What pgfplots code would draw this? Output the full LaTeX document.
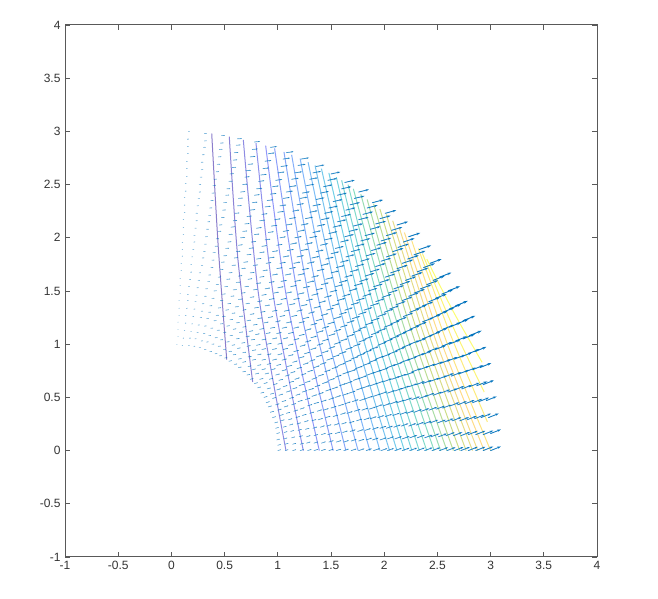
\documentclass[border=0pt]{standalone}
\usepackage{pgfplots}
\usepackage{fontspec}
\setmainfont{Liberation Sans}
\usetikzlibrary{arrows.meta}
\pgfplotsset{compat=1.18}
\definecolor{ax}{rgb}{.35,.35,.35}
\pgfplotstableread{
x y u v
1.00 0.00 .029 .009
1.07 0.00 .031 .010
1.14 0.00 .033 .010
1.21 0.00 .036 .011
1.28 0.00 .038 .012
1.34 0.00 .040 .013
1.41 0.00 .042 .014
1.48 0.00 .045 .015
1.55 0.00 .047 .015
1.62 0.00 .049 .016
1.69 0.00 .052 .017
1.76 0.00 .054 .018
1.83 0.00 .056 .019
1.90 0.00 .059 .020
1.97 0.00 .061 .021
2.03 0.00 .063 .022
2.10 0.00 .066 .023
2.17 0.00 .068 .025
2.24 0.00 .071 .026
2.31 0.00 .073 .027
2.38 0.00 .075 .028
2.45 0.00 .078 .029
2.52 0.00 .080 .030
2.59 0.00 .082 .031
2.66 0.00 .085 .033
2.72 0.00 .087 .034
2.79 0.00 .090 .035
2.86 0.00 .092 .036
2.93 0.00 .095 .038
3.00 0.00 .097 .039
1.00 0.05 .029 .009
1.07 0.06 .031 .010
1.14 0.06 .033 .010
1.21 0.06 .036 .011
1.27 0.07 .038 .012
1.34 0.07 .040 .013
1.41 0.07 .042 .014
1.48 0.08 .045 .015
1.55 0.08 .047 .015
1.62 0.08 .049 .016
1.69 0.09 .052 .017
1.76 0.09 .054 .018
1.83 0.10 .056 .019
1.89 0.10 .059 .020
1.96 0.10 .061 .021
2.03 0.11 .063 .022
2.10 0.11 .066 .023
2.17 0.11 .068 .025
2.24 0.12 .071 .026
2.31 0.12 .073 .027
2.38 0.12 .075 .028
2.44 0.13 .078 .029
2.51 0.13 .080 .030
2.58 0.14 .082 .031
2.65 0.14 .085 .033
2.72 0.14 .087 .034
2.79 0.15 .090 .035
2.86 0.15 .092 .036
2.93 0.15 .095 .038
3.00 0.16 .097 .039
0.99 0.10 .029 .009
1.06 0.11 .031 .010
1.13 0.12 .033 .010
1.20 0.13 .036 .011
1.27 0.13 .038 .012
1.34 0.14 .040 .013
1.41 0.15 .042 .014
1.47 0.15 .045 .015
1.54 0.16 .047 .015
1.61 0.17 .049 .016
1.68 0.18 .052 .017
1.75 0.18 .054 .018
1.82 0.19 .056 .019
1.89 0.20 .059 .020
1.96 0.21 .061 .021
2.02 0.21 .063 .022
2.09 0.22 .066 .023
2.16 0.23 .068 .025
2.23 0.23 .071 .026
2.30 0.24 .073 .027
2.37 0.25 .075 .028
2.43 0.26 .078 .029
2.50 0.26 .080 .030
2.57 0.27 .082 .031
2.64 0.28 .085 .033
2.71 0.28 .087 .034
2.78 0.29 .090 .035
2.85 0.30 .092 .036
2.91 0.31 .095 .038
2.98 0.31 .097 .039
0.99 0.16 .029 .009
1.06 0.17 .031 .010
1.12 0.18 .033 .010
1.19 0.19 .036 .011
1.26 0.20 .038 .012
1.33 0.21 .040 .013
1.40 0.22 .042 .014
1.46 0.23 .045 .015
1.53 0.24 .047 .015
1.60 0.25 .049 .016
1.67 0.26 .052 .017
1.74 0.28 .054 .018
1.81 0.29 .056 .019
1.87 0.30 .059 .020
1.94 0.31 .061 .021
2.01 0.32 .063 .022
2.08 0.33 .066 .023
2.15 0.34 .068 .025
2.21 0.35 .071 .026
2.28 0.36 .073 .027
2.35 0.37 .075 .028
2.42 0.38 .078 .029
2.49 0.39 .080 .030
2.55 0.40 .082 .031
2.62 0.42 .085 .033
2.69 0.43 .087 .034
2.76 0.44 .090 .035
2.83 0.45 .092 .036
2.89 0.46 .095 .038
2.96 0.47 .097 .039
0.98 0.21 .030 .009
1.05 0.22 .033 .010
1.11 0.24 .035 .011
1.18 0.25 .038 .012
1.25 0.27 .040 .013
1.32 0.28 .042 .013
1.38 0.29 .045 .014
1.45 0.31 .047 .015
1.52 0.32 .049 .016
1.59 0.34 .052 .017
1.65 0.35 .054 .018
1.72 0.37 .057 .019
1.79 0.38 .059 .020
1.86 0.39 .062 .021
1.92 0.41 .064 .022
1.99 0.42 .067 .024
2.06 0.44 .069 .025
2.12 0.45 .072 .026
2.19 0.47 .074 .027
2.26 0.48 .077 .028
2.33 0.49 .079 .029
2.39 0.51 .082 .031
2.46 0.52 .084 .032
2.53 0.54 .087 .033
2.60 0.55 .089 .034
2.66 0.57 .092 .036
2.73 0.58 .094 .037
2.80 0.60 .097 .038
2.87 0.61 .100 .040
2.93 0.62 .102 .041
0.97 0.26 .032 .010
1.03 0.28 .034 .010
1.10 0.29 .037 .011
1.17 0.31 .039 .012
1.23 0.33 .042 .013
1.30 0.35 .044 .014
1.37 0.37 .047 .015
1.43 0.38 .049 .016
1.50 0.40 .052 .017
1.57 0.42 .054 .018
1.63 0.44 .057 .019
1.70 0.46 .059 .020
1.77 0.47 .062 .021
1.83 0.49 .065 .022
1.90 0.51 .067 .024
1.96 0.53 .070 .025
2.03 0.54 .073 .026
2.10 0.56 .075 .027
2.16 0.58 .078 .028
2.23 0.60 .080 .029
2.30 0.62 .083 .031
2.36 0.63 .086 .032
2.43 0.65 .088 .033
2.50 0.67 .091 .035
2.56 0.69 .094 .036
2.63 0.70 .096 .037
2.70 0.72 .099 .039
2.76 0.74 .102 .040
2.83 0.76 .104 .042
2.90 0.78 .107 .043
0.95 0.31 .033 .010
1.02 0.33 .036 .011
1.08 0.35 .038 .012
1.15 0.37 .041 .013
1.21 0.39 .043 .014
1.28 0.42 .046 .015
1.34 0.44 .049 .016
1.41 0.46 .051 .017
1.48 0.48 .054 .018
1.54 0.50 .056 .019
1.61 0.52 .059 .020
1.67 0.54 .062 .021
1.74 0.57 .064 .022
1.80 0.59 .067 .023
1.87 0.61 .070 .025
1.93 0.63 .072 .026
2.00 0.65 .075 .027
2.07 0.67 .078 .028
2.13 0.69 .081 .030
2.20 0.71 .083 .031
2.26 0.74 .086 .032
2.33 0.76 .089 .034
2.39 0.78 .092 .035
2.46 0.80 .094 .036
2.53 0.82 .097 .038
2.59 0.84 .100 .039
2.66 0.86 .103 .041
2.72 0.88 .106 .042
2.79 0.91 .108 .044
2.85 0.93 .111 .045
0.93 0.36 .035 .011
1.00 0.38 .037 .011
1.06 0.41 .040 .012
1.13 0.43 .043 .013
1.19 0.46 .045 .014
1.26 0.48 .048 .015
1.32 0.51 .051 .016
1.38 0.53 .053 .018
1.45 0.56 .056 .019
1.51 0.58 .059 .020
1.58 0.61 .062 .021
1.64 0.63 .064 .022
1.71 0.66 .067 .023
1.77 0.68 .070 .025
1.84 0.71 .073 .026
1.90 0.73 .076 .027
1.96 0.75 .079 .028
2.03 0.78 .081 .030
2.09 0.80 .084 .031
2.16 0.83 .087 .032
2.22 0.85 .090 .034
2.29 0.88 .093 .035
2.35 0.90 .096 .036
2.41 0.93 .099 .038
2.48 0.95 .102 .039
2.54 0.98 .104 .041
2.61 1.00 .107 .042
2.67 1.03 .110 .044
2.74 1.05 .113 .045
2.80 1.08 .116 .047
0.91 0.41 .035 .011
0.98 0.43 .037 .011
1.04 0.46 .040 .012
1.11 0.49 .043 .013
1.17 0.52 .045 .014
1.23 0.55 .048 .015
1.29 0.57 .051 .016
1.35 0.60 .053 .018
1.42 0.63 .056 .019
1.48 0.66 .059 .020
1.54 0.69 .062 .021
1.61 0.72 .064 .022
1.67 0.74 .067 .023
1.73 0.77 .070 .025
1.80 0.80 .073 .026
1.86 0.83 .076 .027
1.92 0.86 .079 .028
1.98 0.88 .081 .030
2.05 0.91 .084 .031
2.11 0.94 .087 .032
2.17 0.97 .090 .034
2.24 1.00 .093 .035
2.30 1.02 .096 .036
2.36 1.05 .099 .038
2.43 1.08 .102 .039
2.49 1.11 .104 .041
2.55 1.14 .107 .042
2.61 1.16 .110 .044
2.68 1.19 .113 .045
2.74 1.22 .116 .047
0.89 0.45 .035 .011
0.95 0.49 .037 .011
1.01 0.52 .040 .012
1.08 0.55 .043 .013
1.14 0.58 .045 .014
1.20 0.61 .048 .015
1.26 0.64 .051 .016
1.32 0.67 .053 .018
1.38 0.70 .056 .019
1.44 0.74 .059 .020
1.51 0.77 .062 .021
1.57 0.80 .064 .022
1.63 0.83 .067 .023
1.69 0.86 .070 .025
1.75 0.89 .073 .026
1.81 0.92 .076 .027
1.87 0.95 .079 .028
1.94 0.99 .081 .030
2.00 1.02 .084 .031
2.06 1.05 .087 .032
2.12 1.08 .090 .034
2.18 1.11 .093 .035
2.24 1.14 .096 .036
2.30 1.17 .099 .038
2.36 1.21 .102 .039
2.43 1.24 .104 .041
2.49 1.27 .107 .042
2.55 1.30 .110 .044
2.61 1.33 .113 .045
2.67 1.36 .116 .047
0.87 0.50 .034 .010
0.93 0.53 .036 .011
0.99 0.57 .039 .012
1.05 0.60 .042 .013
1.11 0.64 .044 .014
1.16 0.67 .047 .015
1.22 0.71 .049 .016
1.28 0.74 .052 .017
1.34 0.78 .055 .018
1.40 0.81 .058 .019
1.46 0.85 .060 .020
1.52 0.88 .063 .021
1.58 0.91 .066 .022
1.64 0.95 .068 .023
1.71 0.98 .071 .025
1.76 1.02 .074 .026
1.82 1.05 .077 .027
1.88 1.09 .079 .028
1.94 1.12 .082 .030
2.00 1.16 .085 .031
2.06 1.19 .088 .032
2.12 1.22 .091 .034
2.18 1.26 .093 .035
2.24 1.30 .096 .036
2.30 1.33 .099 .038
2.36 1.36 .102 .039
2.42 1.40 .105 .041
2.48 1.43 .107 .042
2.54 1.47 .110 .044
2.60 1.50 .113 .045
0.84 0.54 .033 .010
0.90 0.58 .036 .010
0.96 0.62 .039 .011
1.01 0.66 .041 .012
1.07 0.70 .044 .013
1.12 0.73 .046 .014
1.18 0.77 .049 .015
1.24 0.81 .052 .016
1.30 0.84 .054 .017
1.36 0.88 .057 .018
1.42 0.92 .060 .019
1.48 0.96 .062 .020
1.53 1.00 .065 .021
1.59 1.03 .068 .022
1.65 1.07 .070 .024
1.71 1.11 .073 .025
1.76 1.14 .076 .026
1.82 1.18 .079 .027
1.88 1.22 .081 .028
1.94 1.26 .084 .029
2.00 1.30 .087 .031
2.05 1.33 .090 .032
2.11 1.37 .092 .033
2.17 1.41 .095 .035
2.23 1.45 .098 .036
2.28 1.48 .101 .037
2.34 1.52 .104 .039
2.40 1.56 .107 .040
2.46 1.60 .109 .042
2.52 1.63 .112 .043
0.81 0.59 .033 .009
0.87 0.63 .035 .010
0.92 0.67 .038 .011
0.98 0.71 .040 .011
1.04 0.75 .043 .012
1.09 0.79 .046 .013
1.14 0.83 .048 .014
1.20 0.87 .051 .015
1.25 0.91 .053 .016
1.31 0.95 .056 .017
1.37 0.99 .059 .018
1.42 1.03 .061 .019
1.48 1.08 .064 .020
1.53 1.12 .067 .021
1.59 1.16 .069 .022
1.65 1.20 .072 .023
1.70 1.24 .075 .024
1.76 1.28 .077 .025
1.81 1.32 .080 .026
1.87 1.36 .083 .027
1.92 1.40 .085 .029
1.98 1.44 .088 .030
2.04 1.48 .091 .031
2.09 1.52 .094 .032
2.15 1.56 .096 .033
2.20 1.60 .099 .035
2.26 1.64 .102 .036
2.31 1.68 .105 .037
2.37 1.72 .107 .039
2.43 1.76 .110 .040
0.78 0.63 .033 .009
0.83 0.67 .036 .009
0.88 0.72 .038 .010
0.94 0.76 .041 .011
0.99 0.80 .043 .012
1.04 0.85 .046 .012
1.10 0.89 .049 .013
1.15 0.93 .051 .014
1.21 0.98 .054 .015
1.26 1.02 .056 .016
1.31 1.06 .059 .017
1.37 1.11 .062 .018
1.42 1.15 .064 .019
1.47 1.19 .067 .020
1.53 1.24 .070 .021
1.58 1.28 .072 .022
1.63 1.32 .075 .023
1.69 1.37 .078 .024
1.74 1.41 .081 .025
1.80 1.45 .083 .026
1.85 1.50 .086 .027
1.90 1.54 .089 .028
1.96 1.58 .092 .029
2.01 1.63 .094 .031
2.06 1.67 .097 .032
2.12 1.71 .100 .033
2.17 1.76 .103 .034
2.22 1.80 .106 .036
2.28 1.84 .108 .037
2.33 1.89 .111 .038
0.74 0.67 .033 .008
0.79 0.72 .035 .009
0.85 0.76 .038 .010
0.90 0.81 .040 .010
0.95 0.85 .043 .011
1.00 0.90 .045 .012
1.05 0.95 .048 .013
1.10 0.99 .050 .013
1.15 1.04 .053 .014
1.20 1.08 .055 .015
1.26 1.13 .058 .016
1.31 1.18 .061 .017
1.36 1.22 .063 .018
1.41 1.27 .066 .019
1.46 1.32 .069 .020
1.51 1.36 .071 .021
1.56 1.41 .074 .022
1.61 1.45 .076 .023
1.67 1.50 .079 .024
1.72 1.55 .082 .025
1.77 1.59 .085 .026
1.82 1.64 .087 .027
1.87 1.68 .090 .028
1.92 1.73 .093 .029
1.97 1.78 .095 .030
2.02 1.82 .098 .031
2.08 1.87 .101 .032
2.13 1.91 .104 .034
2.18 1.96 .106 .035
2.23 2.01 .109 .036
0.71 0.71 .031 .007
0.76 0.76 .034 .008
0.81 0.80 .036 .008
0.85 0.85 .039 .009
0.90 0.90 .041 .010
0.95 0.95 .043 .010
1.00 1.00 .046 .011
1.05 1.05 .048 .012
1.10 1.10 .051 .013
1.15 1.15 .053 .013
1.20 1.20 .056 .014
1.24 1.24 .058 .015
1.29 1.29 .061 .016
1.34 1.34 .064 .017
1.39 1.39 .066 .018
1.44 1.44 .069 .018
1.49 1.49 .071 .019
1.54 1.54 .074 .020
1.58 1.58 .076 .021
1.63 1.63 .079 .022
1.68 1.68 .081 .023
1.73 1.73 .084 .024
1.78 1.78 .087 .025
1.83 1.83 .089 .026
1.88 1.88 .092 .027
1.93 1.93 .095 .028
1.97 1.97 .097 .029
2.02 2.02 .100 .030
2.07 2.07 .102 .031
2.12 2.12 .105 .032
0.67 0.74 .031 .006
0.72 0.79 .033 .007
0.76 0.85 .036 .008
0.81 0.90 .038 .008
0.85 0.95 .040 .009
0.90 1.00 .043 .010
0.95 1.05 .045 .010
0.99 1.10 .047 .011
1.04 1.15 .050 .012
1.08 1.20 .052 .012
1.13 1.26 .055 .013
1.18 1.31 .057 .014
1.22 1.36 .060 .014
1.27 1.41 .062 .015
1.32 1.46 .065 .016
1.36 1.51 .067 .017
1.41 1.56 .070 .017
1.45 1.61 .072 .018
1.50 1.67 .075 .019
1.55 1.72 .077 .020
1.59 1.77 .080 .021
1.64 1.82 .083 .022
1.69 1.87 .085 .023
1.73 1.92 .088 .023
1.78 1.97 .090 .024
1.82 2.02 .093 .025
1.87 2.08 .095 .026
1.92 2.13 .098 .027
1.96 2.18 .101 .028
2.01 2.23 .103 .029
0.63 0.78 .030 .006
0.67 0.83 .033 .007
0.72 0.88 .035 .007
0.76 0.94 .037 .008
0.80 0.99 .039 .008
0.85 1.04 .042 .009
0.89 1.10 .044 .009
0.93 1.15 .047 .010
0.98 1.21 .049 .011
1.02 1.26 .051 .011
1.06 1.31 .054 .012
1.11 1.37 .056 .013
1.15 1.42 .059 .013
1.19 1.47 .061 .014
1.24 1.53 .064 .015
1.28 1.58 .066 .015
1.32 1.63 .068 .016
1.37 1.69 .071 .017
1.41 1.74 .073 .018
1.45 1.80 .076 .019
1.50 1.85 .078 .019
1.54 1.90 .081 .020
1.59 1.96 .083 .021
1.63 2.01 .086 .022
1.67 2.06 .088 .023
1.71 2.11 .091 .023
1.76 2.17 .093 .024
1.80 2.22 .096 .025
1.84 2.28 .099 .026
1.89 2.33 .101 .027
0.59 0.81 .029 .005
0.63 0.86 .031 .006
0.67 0.92 .033 .006
0.71 0.98 .036 .007
0.75 1.04 .038 .007
0.79 1.09 .040 .008
0.83 1.14 .042 .008
0.87 1.20 .045 .009
0.91 1.25 .047 .010
0.95 1.31 .049 .010
0.99 1.37 .052 .011
1.03 1.42 .054 .011
1.08 1.48 .056 .012
1.12 1.54 .059 .013
1.16 1.59 .061 .013
1.19 1.65 .063 .014
1.23 1.70 .066 .014
1.28 1.76 .068 .015
1.32 1.81 .071 .016
1.36 1.87 .073 .016
1.40 1.93 .075 .017
1.44 1.98 .078 .018
1.48 2.04 .080 .019
1.52 2.10 .082 .019
1.56 2.15 .085 .020
1.60 2.20 .087 .021
1.64 2.26 .090 .022
1.68 2.31 .092 .022
1.72 2.37 .095 .023
1.76 2.43 .097 .024
0.54 0.84 .028 .005
0.58 0.90 .030 .005
0.62 0.96 .032 .006
0.66 1.01 .035 .006
0.70 1.07 .037 .007
0.73 1.12 .039 .007
0.77 1.18 .041 .008
0.81 1.24 .043 .008
0.84 1.30 .046 .009
0.88 1.36 .048 .009
0.92 1.42 .050 .010
0.96 1.48 .052 .010
1.00 1.53 .055 .011
1.03 1.59 .057 .011
1.07 1.65 .059 .012
1.11 1.71 .061 .013
1.15 1.76 .064 .013
1.18 1.82 .066 .014
1.22 1.88 .068 .014
1.26 1.94 .071 .015
1.30 2.00 .073 .016
1.33 2.05 .075 .016
1.37 2.11 .078 .017
1.41 2.17 .080 .018
1.44 2.23 .082 .018
1.48 2.28 .085 .019
1.52 2.34 .087 .020
1.56 2.40 .089 .021
1.60 2.46 .092 .021
1.63 2.52 .094 .022
0.50 0.87 .026 .004
0.54 0.93 .028 .005
0.57 0.99 .030 .005
0.61 1.05 .032 .005
0.64 1.11 .034 .006
0.67 1.16 .036 .006
0.71 1.22 .039 .007
0.74 1.28 .041 .007
0.78 1.34 .043 .008
0.81 1.40 .045 .008
0.85 1.46 .047 .008
0.88 1.52 .049 .009
0.92 1.58 .051 .009
0.95 1.65 .053 .010
0.99 1.71 .055 .010
1.02 1.76 .057 .011
1.05 1.82 .060 .011
1.09 1.88 .062 .012
1.12 1.94 .064 .013
1.16 2.00 .066 .013
1.19 2.06 .068 .014
1.22 2.12 .070 .014
1.26 2.18 .073 .015
1.30 2.24 .075 .015
1.33 2.30 .077 .016
1.36 2.36 .079 .017
1.40 2.42 .081 .017
1.43 2.48 .084 .018
1.47 2.54 .086 .018
1.50 2.60 .088 .019
0.45 0.89 .024 .003
0.49 0.95 .025 .004
0.52 1.02 .027 .004
0.55 1.08 .029 .004
0.58 1.14 .031 .005
0.61 1.20 .033 .005
0.64 1.26 .035 .005
0.67 1.32 .036 .006
0.70 1.38 .038 .006
0.74 1.44 .040 .006
0.77 1.51 .042 .007
0.80 1.57 .044 .007
0.83 1.63 .046 .007
0.86 1.69 .048 .008
0.89 1.76 .050 .008
0.92 1.81 .052 .009
0.95 1.87 .054 .009
0.99 1.93 .055 .009
1.02 2.00 .057 .010
1.05 2.06 .059 .010
1.08 2.12 .061 .011
1.11 2.18 .063 .011
1.14 2.25 .065 .012
1.18 2.31 .067 .012
1.21 2.37 .069 .013
1.23 2.42 .071 .013
1.27 2.49 .073 .014
1.30 2.55 .075 .014
1.33 2.61 .077 .015
1.36 2.67 .079 .015
0.41 0.91 .022 .003
0.44 0.98 .024 .003
0.46 1.04 .026 .003
0.49 1.11 .027 .003
0.52 1.17 .029 .004
0.55 1.23 .031 .004
0.57 1.29 .032 .004
0.60 1.35 .034 .004
0.63 1.42 .036 .005
0.66 1.48 .038 .005
0.69 1.54 .039 .005
0.72 1.61 .041 .006
0.74 1.67 .043 .006
0.77 1.74 .045 .006
0.80 1.80 .047 .007
0.83 1.86 .048 .007
0.85 1.92 .050 .007
0.88 1.98 .052 .008
0.91 2.05 .054 .008
0.94 2.11 .056 .008
0.97 2.17 .057 .009
1.00 2.24 .059 .009
1.02 2.30 .061 .009
1.05 2.37 .063 .010
1.08 2.43 .065 .010
1.11 2.48 .067 .010
1.13 2.55 .068 .011
1.16 2.61 .070 .011
1.19 2.68 .072 .012
1.22 2.74 .074 .012
0.36 0.93 .021 .002
0.38 1.00 .023 .002
0.41 1.06 .024 .003
0.43 1.13 .025 .003
0.46 1.19 .027 .003
0.48 1.26 .029 .003
0.51 1.32 .030 .004
0.53 1.38 .032 .004
0.56 1.45 .033 .004
0.58 1.51 .035 .004
0.61 1.58 .037 .004
0.63 1.64 .038 .005
0.66 1.71 .040 .005
0.68 1.77 .042 .005
0.71 1.84 .043 .005
0.73 1.90 .045 .006
0.75 1.96 .047 .006
0.78 2.03 .048 .006
0.80 2.09 .050 .007
0.83 2.16 .052 .007
0.85 2.22 .054 .007
0.88 2.29 .055 .007
0.90 2.35 .057 .008
0.93 2.41 .059 .008
0.95 2.48 .060 .008
0.98 2.54 .062 .009
1.00 2.61 .064 .009
1.03 2.67 .066 .009
1.05 2.74 .067 .010
1.08 2.80 .069 .010
0.31 0.95 .019 .002
0.33 1.02 .020 .002
0.35 1.08 .022 .002
0.37 1.15 .023 .002
0.40 1.22 .025 .002
0.42 1.27 .026 .003
0.44 1.34 .028 .003
0.46 1.41 .029 .003
0.48 1.47 .031 .003
0.50 1.54 .032 .003
0.52 1.61 .034 .003
0.54 1.67 .035 .004
0.57 1.74 .037 .004
0.59 1.81 .038 .004
0.61 1.87 .040 .004
0.63 1.93 .041 .005
0.65 2.00 .043 .005
0.67 2.06 .044 .005
0.69 2.13 .046 .005
0.71 2.20 .047 .005
0.74 2.26 .049 .006
0.76 2.33 .050 .006
0.78 2.40 .052 .006
0.80 2.46 .054 .006
0.82 2.53 .055 .007
0.84 2.59 .057 .007
0.86 2.65 .058 .007
0.88 2.72 .060 .007
0.91 2.79 .061 .008
0.93 2.85 .063 .008
0.26 0.97 .016 .001
0.28 1.03 .017 .001
0.30 1.10 .019 .002
0.31 1.17 .020 .002
0.33 1.24 .021 .002
0.35 1.30 .022 .002
0.36 1.36 .024 .002
0.38 1.43 .025 .002
0.40 1.50 .026 .002
0.42 1.56 .027 .003
0.44 1.63 .029 .003
0.46 1.70 .030 .003
0.47 1.77 .031 .003
0.49 1.83 .033 .003
0.51 1.90 .034 .003
0.53 1.96 .035 .003
0.54 2.03 .037 .004
0.56 2.10 .038 .004
0.58 2.16 .039 .004
0.60 2.23 .041 .004
0.62 2.30 .042 .004
0.63 2.37 .043 .004
0.65 2.43 .045 .005
0.67 2.50 .046 .005
0.69 2.57 .047 .005
0.70 2.63 .049 .005
0.72 2.69 .050 .005
0.74 2.76 .051 .006
0.76 2.83 .053 .006
0.78 2.90 .054 .006
0.21 0.98 .013 .001
0.22 1.05 .014 .001
0.24 1.11 .015 .001
0.25 1.18 .016 .001
0.27 1.25 .017 .001
0.28 1.31 .018 .001
0.29 1.38 .019 .001
0.31 1.45 .020 .001
0.32 1.52 .021 .001
0.34 1.59 .022 .001
0.35 1.65 .023 .001
0.37 1.72 .024 .001
0.38 1.79 .025 .001
0.39 1.86 .026 .002
0.41 1.92 .027 .002
0.42 1.99 .028 .002
0.44 2.06 .029 .002
0.45 2.12 .030 .002
0.47 2.19 .031 .002
0.48 2.26 .032 .002
0.49 2.33 .033 .002
0.51 2.40 .034 .002
0.52 2.46 .035 .002
0.54 2.53 .036 .003
0.55 2.60 .038 .003
0.57 2.66 .039 .003
0.58 2.73 .040 .003
0.59 2.80 .041 .003
0.61 2.87 .042 .003
0.62 2.93 .043 .003
0.16 0.99 .010 .000
0.17 1.06 .011 .000
0.18 1.12 .011 .001
0.19 1.19 .012 .001
0.20 1.26 .013 .001
0.21 1.33 .014 .001
0.22 1.40 .014 .001
0.23 1.46 .015 .001
0.24 1.53 .016 .001
0.25 1.60 .017 .001
0.26 1.67 .018 .001
0.28 1.74 .018 .001
0.29 1.81 .019 .001
0.30 1.87 .020 .001
0.31 1.94 .021 .001
0.32 2.01 .022 .001
0.33 2.08 .022 .001
0.34 2.15 .023 .001
0.35 2.21 .024 .001
0.36 2.28 .025 .001
0.37 2.35 .026 .001
0.38 2.42 .026 .001
0.39 2.49 .027 .002
0.40 2.55 .028 .002
0.42 2.62 .029 .002
0.43 2.69 .030 .002
0.44 2.76 .031 .002
0.45 2.83 .031 .002
0.46 2.89 .032 .002
0.47 2.96 .033 .002
0.10 0.99 .007 .000
0.11 1.06 .007 .000
0.12 1.13 .008 .000
0.13 1.20 .008 .000
0.13 1.27 .009 .000
0.14 1.34 .010 .000
0.15 1.41 .010 .000
0.15 1.47 .011 .000
0.16 1.54 .011 .000
0.17 1.61 .012 .000
0.18 1.68 .012 .000
0.18 1.75 .013 .001
0.19 1.82 .013 .001
0.20 1.89 .014 .001
0.21 1.96 .014 .001
0.21 2.02 .015 .001
0.22 2.09 .016 .001
0.23 2.16 .016 .001
0.23 2.23 .017 .001
0.24 2.30 .017 .001
0.25 2.37 .018 .001
0.26 2.43 .018 .001
0.26 2.50 .019 .001
0.27 2.57 .020 .001
0.28 2.64 .020 .001
0.28 2.71 .021 .001
0.29 2.78 .021 .001
0.30 2.85 .022 .001
0.31 2.91 .022 .001
0.31 2.98 .023 .001
0.05 1.00 .004 .000
0.06 1.07 .004 .000
0.06 1.14 .004 .000
0.06 1.21 .004 .000
0.07 1.27 .005 .000
0.07 1.34 .005 .000
0.07 1.41 .005 .000
0.08 1.48 .006 .000
0.08 1.55 .006 .000
0.08 1.62 .006 .000
0.09 1.69 .006 .000
0.09 1.76 .007 .000
0.10 1.83 .007 .000
0.10 1.89 .007 .000
0.10 1.96 .008 .000
0.11 2.03 .008 .000
0.11 2.10 .008 .000
0.11 2.17 .008 .000
0.12 2.24 .009 .000
0.12 2.31 .009 .000
0.12 2.38 .009 .000
0.13 2.44 .010 .000
0.13 2.51 .010 .000
0.14 2.58 .010 .000
0.14 2.65 .011 .000
0.14 2.72 .011 .000
0.15 2.79 .011 .000
0.15 2.86 .011 .000
0.15 2.93 .012 .000
0.16 3.00 .012 .000
}\field
\begin{document}
\begin{tikzpicture}[x=1pt,y=1pt]
\path[use as bounding box] (0,0) rectangle (658,599);
\begin{axis}[at={(65pt,42pt)},anchor=south west,width=532pt,height=532pt,scale only axis,
xmin=-1,xmax=4,ymin=-1,ymax=4,
xtick={-1,-0.5,...,4},ytick={-1,-0.5,...,4},
xticklabels={-1,-0.5,0,0.5,1,1.5,2,2.5,3,3.5,4},
yticklabels={-1,-0.5,0,0.5,1,1.5,2,2.5,3,3.5,4},
tick align=inside,tick pos=both,major tick length=5pt,
axis line style={ax,line width=1pt},tick style={ax,line width=.7pt},
tick label style={font=\fontsize{12}{14}\selectfont,text=black!80},
xticklabel style={yshift=-1pt},yticklabel style={xshift=-1pt},
no markers,every axis plot/.append style={line width=1pt,smooth,opacity=.6}]
\addplot[draw={rgb,1:red,.24;green,.15;blue,.66}] coordinates {(.379,2.98)(.44,1.92)(.52,.855)};
\addplot[draw={rgb,1:red,.25;green,.19;blue,.73}] coordinates {(.544,2.95)(.625,1.80)(.764,.645)};
\addplot[draw={rgb,1:red,.26;green,.24;blue,.81}] coordinates {(.676,2.92)(.82,1.46)(1.077,0)};
\addplot[draw={rgb,1:red,.27;green,.28;blue,.88}] coordinates {(.795,2.89)(.96,1.445)(1.24,0)};
\addplot[draw={rgb,1:red,.28;green,.32;blue,.96}] coordinates {(.886,2.866)(1.083,1.433)(1.39,0)};
\addplot[draw={rgb,1:red,.25;green,.37;blue,.96}] coordinates {(.97,2.84)(1.195,1.42)(1.52,0)};
\addplot[draw={rgb,1:red,.23;green,.43;blue,.96}] coordinates {(1.058,2.807)(1.30,1.40)(1.64,0)};
\addplot[draw={rgb,1:red,.20;green,.48;blue,.97}] coordinates {(1.13,2.78)(1.39,1.39)(1.755,0)};
\addplot[draw={rgb,1:red,.18;green,.53;blue,.97}] coordinates {(1.21,2.745)(1.49,1.37)(1.865,0)};
\addplot[draw={rgb,1:red,.15;green,.57;blue,.94}] coordinates {(1.285,2.71)(1.58,1.355)(1.96,0)};
\addplot[draw={rgb,1:red,.12;green,.61;blue,.90}] coordinates {(1.35,2.68)(1.655,1.34)(2.05,0)};
\addplot[draw={rgb,1:red,.10;green,.65;blue,.87}] coordinates {(1.41,2.65)(1.725,1.325)(2.12,0)};
\addplot[draw={rgb,1:red,.07;green,.69;blue,.84}] coordinates {(1.48,2.61)(1.795,1.305)(2.19,0)};
\addplot[draw={rgb,1:red,.11;green,.72;blue,.78}] coordinates {(1.55,2.57)(1.865,1.285)(2.26,0)};
\addplot[draw={rgb,1:red,.14;green,.74;blue,.72}] coordinates {(1.60,2.54)(1.925,1.27)(2.33,0)};
\addplot[draw={rgb,1:red,.18;green,.76;blue,.65}] coordinates {(1.66,2.50)(1.99,1.25)(2.40,0)};
\addplot[draw={rgb,1:red,.22;green,.78;blue,.59}] coordinates {(1.71,2.46)(2.055,1.23)(2.47,0)};
\addplot[draw={rgb,1:red,.33;green,.78;blue,.50}] coordinates {(1.78,2.41)(2.12,1.205)(2.53,0)};
\addplot[draw={rgb,1:red,.44;green,.78;blue,.41}] coordinates {(1.84,2.36)(2.18,1.18)(2.59,0)};
\addplot[draw={rgb,1:red,.56;green,.78;blue,.31}] coordinates {(1.90,2.32)(2.245,1.16)(2.65,0)};
\addplot[draw={rgb,1:red,.67;green,.78;blue,.22}] coordinates {(1.96,2.27)(2.305,1.135)(2.71,0)};
\addplot[draw={rgb,1:red,.75;green,.78;blue,.22}] coordinates {(2.02,2.22)(2.365,1.11)(2.77,0)};
\addplot[draw={rgb,1:red,.83;green,.77;blue,.22}] coordinates {(2.08,2.16)(2.425,1.08)(2.83,0)};
\addplot[draw={rgb,1:red,.92;green,.77;blue,.22}] coordinates {(2.14,2.10)(2.48,1.05)(2.88,0)};
\addplot[draw={rgb,1:red,1;green,.77;blue,.22}] coordinates {(2.19,2.05)(2.535,1.025)(2.94,0)};
\addplot[draw={rgb,1:red,.99;green,.82;blue,.18}] coordinates {(2.26,1.97)(2.60,.985)(3.0,0)};
\addplot[draw={rgb,1:red,.99;green,.87;blue,.15}] coordinates {(2.32,1.90)(2.625,1.085)(2.97,.27)};
\addplot[draw={rgb,1:red,.98;green,.93;blue,.11}] coordinates {(2.36,1.85)(2.63,1.2)(2.94,.55)};
\addplot[draw={rgb,1:red,.98;green,.98;blue,.08}] coordinates {(2.40,1.80)(2.645,1.315)(2.92,.83)};
\addplot[opacity=1,point meta={sqrt(\thisrow{u}^2+\thisrow{v}^2)},point meta min=0,point meta max=.13,
quiver={u=\thisrow{u},v=\thisrow{v},every arrow/.append style={draw={rgb,1:red,.0;green,.447;blue,.741},fill={rgb,1:red,.0;green,.447;blue,.741},line cap=round,line width={.55pt+\pgfplotspointmetatransformed/1000*.4pt},draw opacity={.3+\pgfplotspointmetatransformed/1000*.7},-{Stealth[length=\pgfplotspointmetatransformed/1000*4.5pt,width=\pgfplotspointmetatransformed/1000*2.8pt]}}}]
table {\field};
\end{axis}
\end{tikzpicture}
\end{document}
